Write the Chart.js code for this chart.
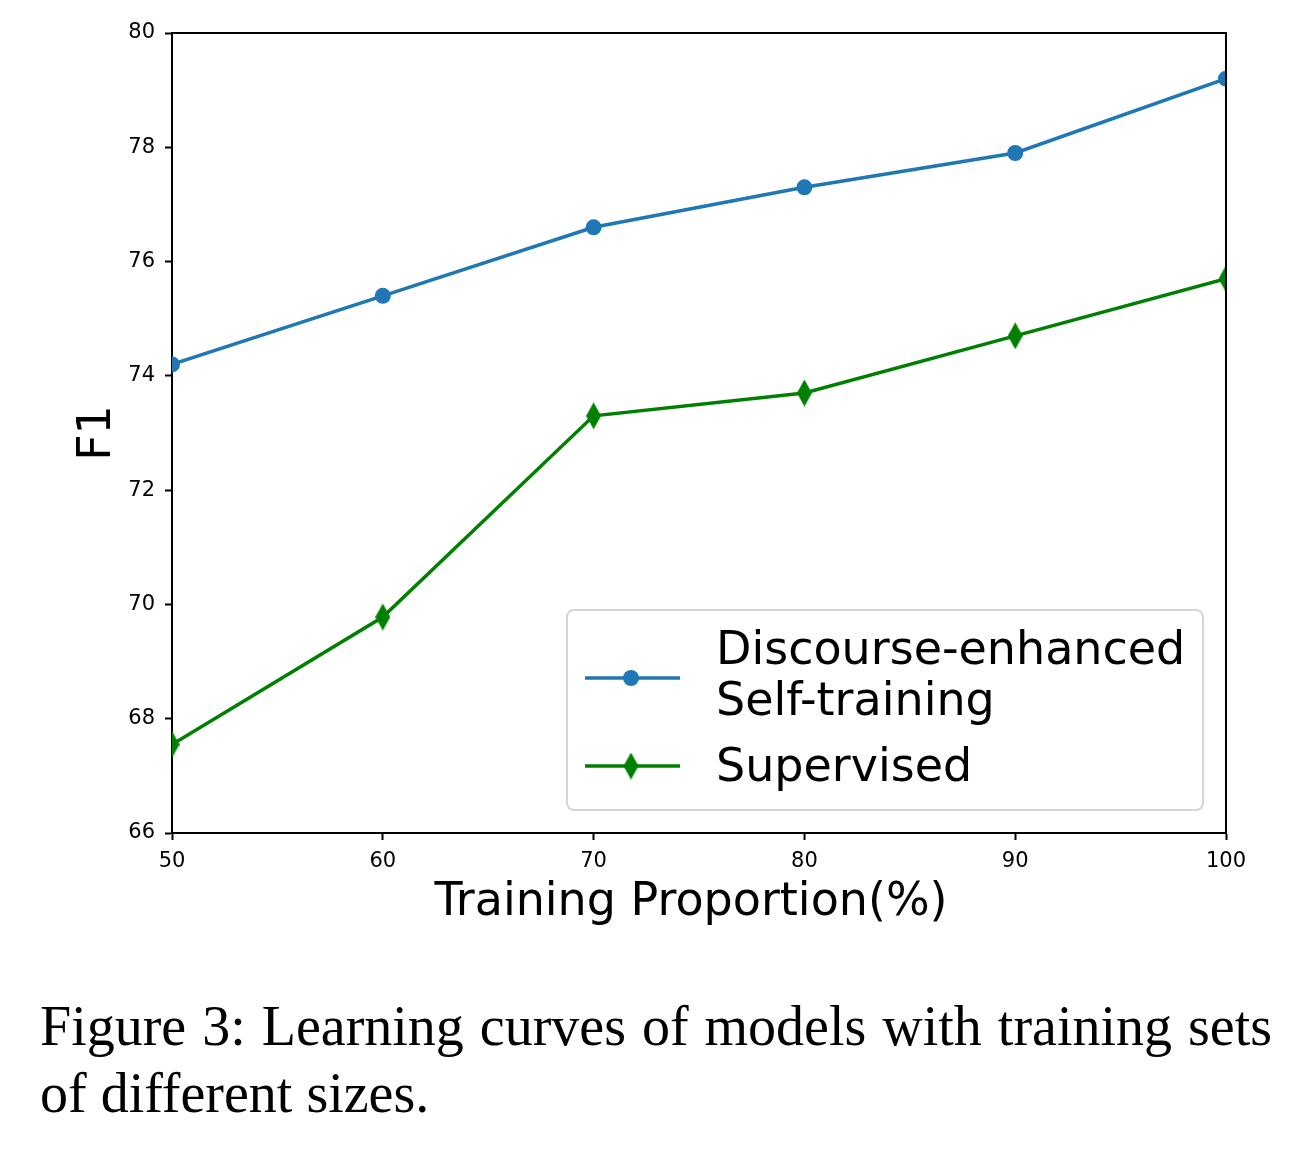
<!DOCTYPE html>
<html>
<head>
<meta charset="utf-8">
<script src="https://cdn.jsdelivr.net/npm/chart.js@4.4.0/dist/chart.umd.min.js"></script>
<style>
  body { margin: 0; background: #fff; width: 1302px; height: 1164px; position: relative; overflow: hidden; }
  #wrap { position: absolute; left: 0; top: 0; width: 1302px; height: 950px; }
  #caption {
    position: absolute; left: 40px; top: 993px; width: 1232px;
    font-family: "Liberation Serif", "Times New Roman", serif;
    font-size: 56px; line-height: 67px; color: #000;
  }
  #caption .first { text-align: justify; text-align-last: justify; }
</style>
</head>
<body>
<div id="wrap"><canvas id="chart"></canvas></div>
<div id="caption">
  <div class="first">Figure 3: Learning curves of models with training sets</div>
  <div>of different sizes.</div>
</div>
<script>
// Data
const proportions = [50, 60, 70, 80, 90, 100];
const selfTraining = [74.2, 75.4, 76.6, 77.3, 77.9, 79.2];
const supervised = [67.55, 69.78, 73.3, 73.7, 74.7, 75.7];
const seriesNames = [["Discourse-enhanced", "Self-training"], ["Supervised"]];
const xTitle = "Training Proportion(%)";
const yTitle = "F1";

const colors = {
  blue: "#1f77b4",
  green: "#008000",
};

const tickFont = { family: "DejaVu Sans", size: 21 };
const titleFont = { family: "DejaVu Sans", size: 46 };

// thin diamond marker like matplotlib 'd'
function makeDiamond(w, h, color) {
  const c = document.createElement("canvas");
  c.width = w;
  c.height = h;
  const g = c.getContext("2d");
  g.fillStyle = color;
  g.beginPath();
  g.moveTo(w / 2, 0);
  g.lineTo(w, h / 2);
  g.lineTo(w / 2, h);
  g.lineTo(0, h / 2);
  g.closePath();
  g.fill();
  return c;
}
const diamond = makeDiamond(15, 27, colors.green);

// top/right frame lines, x title and the legend inside the plot
const framePlugin = {
  id: "frame",
  afterDraw(chart) {
    const ctx = chart.ctx;
    const ca = chart.chartArea;
    ctx.save();
    ctx.strokeStyle = "#000";
    ctx.lineWidth = 2;
    ctx.beginPath();
    ctx.moveTo(ca.left, ca.top);
    ctx.lineTo(ca.right, ca.top);
    ctx.lineTo(ca.right, ca.bottom);
    ctx.stroke();

    // x axis title
    ctx.font = "46px 'DejaVu Sans'";
    ctx.fillStyle = "#000";
    ctx.textAlign = "center";
    ctx.textBaseline = "middle";
    ctx.fillText(xTitle, (ca.left + ca.right) / 2 - 8, ca.bottom + 70);
    ctx.textAlign = "left";

    // legend box
    const w = 636, h = 200;
    const x0 = ca.right - 23 - w;
    const y0 = ca.bottom - 23 - h;
    ctx.beginPath();
    ctx.roundRect(x0, y0, w, h, 7);
    ctx.fillStyle = "rgba(255,255,255,0.8)";
    ctx.fill();
    ctx.strokeStyle = "#d5d5d5";
    ctx.lineWidth = 2;
    ctx.stroke();

    const rows = [y0 + 68, y0 + 156];
    ctx.textBaseline = "alphabetic";
    chart.data.datasets.forEach((ds, i) => {
      const y = rows[i];
      ctx.strokeStyle = ds.borderColor;
      ctx.lineWidth = 3.5;
      ctx.beginPath();
      ctx.moveTo(x0 + 18, y);
      ctx.lineTo(x0 + 113, y);
      ctx.stroke();
      if (i === 0) {
        ctx.fillStyle = ds.borderColor;
        ctx.beginPath();
        ctx.arc(x0 + 64, y, 8, 0, Math.PI * 2);
        ctx.fill();
      } else {
        ctx.drawImage(diamond, x0 + 64 - diamond.width / 2, y - diamond.height / 2);
      }
      ctx.fillStyle = "#000";
      const lines = seriesNames[i];
      if (lines.length === 2) {
        ctx.fillText(lines[0], x0 + 149, y - 14);
        ctx.fillText(lines[1], x0 + 149, y + 37);
      } else {
        ctx.fillText(lines[0], x0 + 149, y + 15);
      }
    });
    ctx.restore();
  },
};

const ctx = document.getElementById("chart").getContext("2d");
new Chart(ctx, {
  type: "line",
  data: {
    datasets: [
      {
        label: "Discourse-enhanced Self-training",
        data: proportions.map((p, i) => ({ x: p, y: selfTraining[i] })),
        borderColor: colors.blue,
        backgroundColor: colors.blue,
        borderWidth: 3.5,
        pointRadius: 8,
        pointStyle: "circle",
        pointBorderWidth: 0,
        tension: 0,
        clip: 0,
      },
      {
        label: "Supervised",
        data: proportions.map((p, i) => ({ x: p, y: supervised[i] })),
        borderColor: colors.green,
        backgroundColor: colors.green,
        borderWidth: 3.5,
        pointStyle: diamond,
        pointRadius: 10,
        tension: 0,
        clip: 0,
      },
    ],
  },
  options: {
    responsive: true,
    maintainAspectRatio: false,
    animation: false,
    layout: {
      padding: { left: 0, top: 33, right: 76, bottom: 0 },
    },
    scales: {
      x: {
        type: "linear",
        min: 50,
        max: 100,
        afterFit: (scale) => { scale.height = 117; },
        ticks: { stepSize: 10, color: "#000", font: tickFont, padding: 9 },
        grid: { drawOnChartArea: false, tickLength: 7, tickColor: "#000", tickWidth: 2 },
        border: { color: "#000", width: 2 },
      },
      y: {
        min: 66,
        max: 80,
        afterFit: (scale) => { scale.width = 172; },
        ticks: { stepSize: 2, color: "#000", font: tickFont, padding: 10 },
        grid: { drawOnChartArea: false, tickLength: 7, tickColor: "#000", tickWidth: 2 },
        border: { color: "#000", width: 2 },
        title: { display: true, text: yTitle, color: "#000", font: titleFont, padding: { top: 70, bottom: 0 } },
      },
    },
    plugins: {
      legend: { display: false },
      tooltip: { enabled: false },
    },
  },
  plugins: [framePlugin],
});
</script>
</body>
</html>
